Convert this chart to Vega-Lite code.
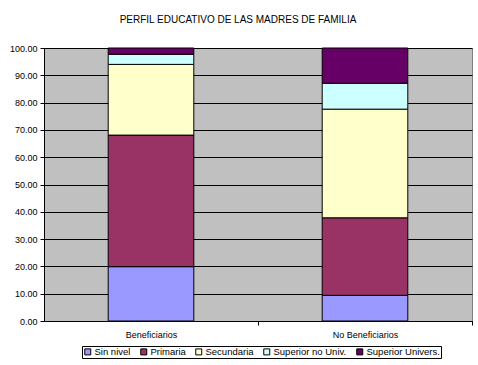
{
  "$schema": "https://vega.github.io/schema/vega-lite/v6.json",
  "width": 428,
  "height": 273,
  "autosize": "none",
  "padding": {"left": 44, "top": 48, "right": 6, "bottom": 44},
  "background": "white",
  "config": {
    "font": "Liberation Sans",
    "view": {"fill": "#C0C0C0", "stroke": "#808080", "strokeWidth": 1}
  },
  "title": {
    "text": "PERFIL EDUCATIVO DE LAS MADRES DE FAMILIA",
    "fontSize": 10,
    "fontWeight": "normal",
    "color": "black",
    "anchor": "middle",
    "frame": "group",
    "dx": -20,
    "offset": 19
  },
  "data": {
    "values": [
      {"grupo": "Beneficiarios", "nivel": "Sin nivel", "orden": 1, "pct": 19.9},
      {"grupo": "Beneficiarios", "nivel": "Primaria", "orden": 2, "pct": 48.2},
      {"grupo": "Beneficiarios", "nivel": "Secundaria", "orden": 3, "pct": 25.9},
      {"grupo": "Beneficiarios", "nivel": "Superior no Univ.", "orden": 4, "pct": 3.7},
      {"grupo": "Beneficiarios", "nivel": "Superior Univers.", "orden": 5, "pct": 2.3},
      {"grupo": "No Beneficiarios", "nivel": "Sin nivel", "orden": 1, "pct": 9.4},
      {"grupo": "No Beneficiarios", "nivel": "Primaria", "orden": 2, "pct": 28.4},
      {"grupo": "No Beneficiarios", "nivel": "Secundaria", "orden": 3, "pct": 39.8},
      {"grupo": "No Beneficiarios", "nivel": "Superior no Univ.", "orden": 4, "pct": 9.5},
      {"grupo": "No Beneficiarios", "nivel": "Superior Univers.", "orden": 5, "pct": 12.9}
    ]
  },
  "mark": {"type": "bar", "stroke": "black", "strokeWidth": 1},
  "encoding": {
    "x": {
      "field": "grupo",
      "type": "nominal",
      "sort": ["Beneficiarios", "No Beneficiarios"],
      "scale": {"paddingInner": 0.6, "paddingOuter": 0.3},
      "axis": {
        "title": null,
        "labelAngle": 0,
        "labelFontSize": 9,
        "labelColor": "black",
        "labelPadding": 5,
        "domainColor": "black",
        "tickColor": "black",
        "tickSize": 4,
        "tickOffset": 107,
        "labelOffset": -107
      }
    },
    "y": {
      "field": "pct",
      "type": "quantitative",
      "stack": "zero",
      "scale": {"domain": [0, 100], "nice": false},
      "axis": {
        "title": null,
        "values": [0, 10, 20, 30, 40, 50, 60, 70, 80, 90, 100],
        "format": ".2f",
        "labelFontSize": 9,
        "labelColor": "black",
        "labelPadding": 3,
        "domainColor": "black",
        "tickColor": "black",
        "tickSize": 4,
        "grid": true,
        "gridColor": "black",
        "gridOpacity": 1,
        "gridWidth": 1
      }
    },
    "color": {
      "field": "nivel",
      "type": "nominal",
      "sort": ["Sin nivel", "Primaria", "Secundaria", "Superior no Univ.", "Superior Univers."],
      "scale": {
        "domain": ["Sin nivel", "Primaria", "Secundaria", "Superior no Univ.", "Superior Univers."],
        "range": ["#9999FF", "#993366", "#FFFFCC", "#CCFFFF", "#660066"]
      },
      "legend": {
        "title": null,
        "orient": "none",
        "legendX": 38,
        "legendY": 298,
        "direction": "horizontal",
        "strokeColor": "black",
        "padding": 1,
        "symbolType": "square",
        "symbolSize": 36,
        "symbolStrokeColor": "black",
        "symbolStrokeWidth": 1,
        "symbolOpacity": 1,
        "labelFontSize": 9.5,
        "labelColor": "black",
        "labelOffset": 2,
        "columnPadding": 7
      }
    },
    "order": {"field": "orden", "type": "quantitative", "sort": "ascending"}
  }
}
